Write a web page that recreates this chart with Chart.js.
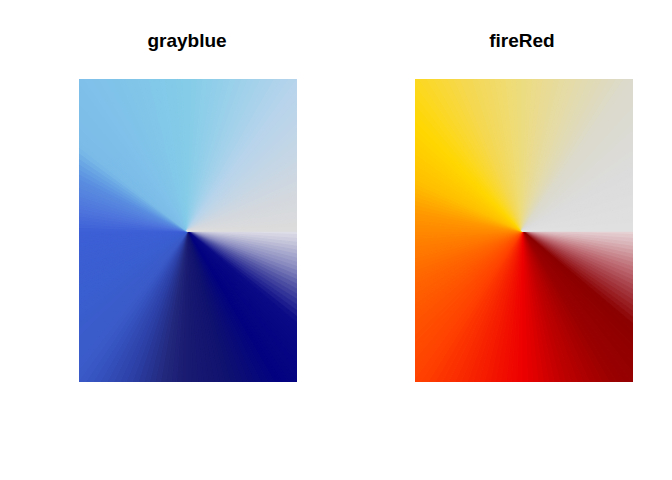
<!DOCTYPE html>
<html>
<head>
<meta charset="utf-8">
<script src="https://cdn.jsdelivr.net/npm/chart.js@4"></script>
<style>
  html, body { margin: 0; padding: 0; background: #ffffff; }
  #page { position: relative; width: 672px; height: 480px; background: #ffffff; overflow: hidden; }
  .panel { position: absolute; overflow: hidden; }
  .panel canvas { position: absolute; }
  .title { position: absolute; width: 300px; text-align: center; font-family: "Liberation Sans", Arial, Helvetica, sans-serif; font-weight: bold; font-size: 19px; line-height: 19px; color: #000; }
</style>
</head>
<body>
<div id="page">
  <div class="title" id="t1" style="left:37px; top:31px;"></div>
  <div class="title" id="t2" style="left:372px; top:31px;"></div>
  <div class="panel" style="left:79px; top:79px; width:218px; height:303px;">
    <canvas id="c1" width="420" height="420" style="left:-102px; top:-58px;"></canvas>
  </div>
  <div class="panel" style="left:415px; top:79px; width:218px; height:303px;">
    <canvas id="c2" width="420" height="420" style="left:-103px; top:-58px;"></canvas>
  </div>
</div>
<script>
// Palette names (panel titles)
const paletteNames = ["grayblue", "fireRed"];

// Number of equal pie slices per panel
const sliceCount = 180;

// Colour stops: angle (degrees, counter-clockwise from 3 o'clock) and colour
const grayblueAngles = [0, 18, 38, 54, 72, 90, 125, 142, 147, 154, 170, 180, 210, 234, 249, 261, 270, 285, 301, 320, 332, 341, 352, 360];
const grayblueColors = ["#dcdcdc", "#d4d8de", "#c4d6e6", "#b6d4ec", "#9ad0ea", "#84cce8", "#7fc0ea", "#7abbe8", "#6aa6e4", "#5a8ee0", "#4d72dc", "#3d5fd6", "#3a5fd0", "#3a5ac8", "#2c40a6", "#22287c", "#191970", "#10126f", "#020280", "#0a0a86", "#5052a4", "#8a8cc0", "#c0c0d8", "#e2e2ea"];

const fireRedAngles = [0, 30, 54, 75, 93, 111, 125, 134, 154, 170, 180, 204, 234, 270, 285, 301, 319, 331, 341, 352, 360];
const fireRedColors = ["#e0e0e0", "#dcdcdc", "#dcdacc", "#e6dba0", "#eedc78", "#f5d850", "#fcd820", "#ffd700", "#ffc000", "#ff9800", "#ff8800", "#ff6600", "#ff4200", "#ee0000", "#c00000", "#9a0000", "#8b0000", "#a63c44", "#c07078", "#d8b0b4", "#e8d6d8"];

function hexToRgb(h) {
  return [parseInt(h.slice(1, 3), 16), parseInt(h.slice(3, 5), 16), parseInt(h.slice(5, 7), 16)];
}
function colorAt(angles, colors, a) {
  for (let i = 0; i < angles.length - 1; i++) {
    if (a >= angles[i] && a <= angles[i + 1]) {
      const t = (a - angles[i]) / (angles[i + 1] - angles[i]);
      const c0 = hexToRgb(colors[i]), c1 = hexToRgb(colors[i + 1]);
      const c = c0.map((v, k) => Math.round(v + (c1[k] - v) * t));
      return "rgb(" + c[0] + "," + c[1] + "," + c[2] + ")";
    }
  }
  return colors[colors.length - 1];
}

function buildPie(canvasId, angles, colors) {
  const labels = [];
  const values = [];
  const fills = [];
  // Chart.js draws clockwise, the reference runs counter-clockwise: list slices in reverse
  for (let k = 0; k < sliceCount; k++) {
    const ccwIndex = sliceCount - 1 - k;
    const mid = (ccwIndex + 0.5) * 360 / sliceCount;
    labels.push("slice " + (ccwIndex + 1));
    values.push(1);
    fills.push(colorAt(angles, colors, mid));
  }
  new Chart(document.getElementById(canvasId), {
    type: "pie",
    data: {
      labels: labels,
      datasets: [{
        data: values,
        backgroundColor: fills,
        borderColor: fills,
        borderWidth: 1.5,
        hoverOffset: 0
      }]
    },
    options: {
      responsive: false,
      animation: false,
      devicePixelRatio: 1,
      rotation: 90,
      layout: { padding: 0 },
      plugins: { legend: { display: false }, tooltip: { enabled: false }, title: { display: false } },
      events: []
    }
  });
}

document.getElementById("t1").textContent = paletteNames[0];
document.getElementById("t2").textContent = paletteNames[1];
buildPie("c1", grayblueAngles, grayblueColors);
buildPie("c2", fireRedAngles, fireRedColors);
</script>
</body>
</html>
